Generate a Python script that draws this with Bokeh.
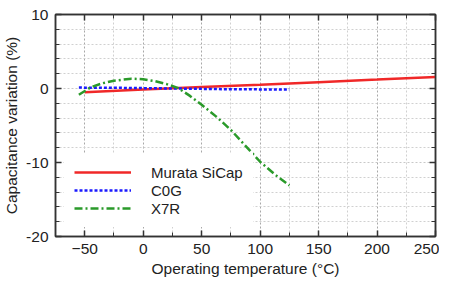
from bokeh.plotting import figure
from bokeh.models import (FixedTicker, LinearAxis, Range1d, Legend, LegendItem)
from bokeh.embed import file_html
from bokeh.resources import INLINE

# ---- data ----
sicap_t = [-50, 0, 50, 100, 150, 200, 250]
sicap_v = [-0.5, -0.15, 0.2, 0.5, 0.85, 1.2, 1.57]

c0g_t = [-55, -25, 0, 25, 50, 75, 100, 125]
c0g_v = [0.12, 0.1, 0.05, 0.0, -0.05, -0.1, -0.12, -0.15]

x7r_t = [-55, -45, -35, -25, -10, 0, 10, 20, 30, 40, 50, 62.5, 75, 87.5, 100, 112.5, 125]
x7r_v = [-0.85, 0.15, 0.7, 1.05, 1.33, 1.25, 1.0, 0.6, 0.05, -1.0, -2.2, -3.8, -5.6, -7.75, -9.9, -11.6, -13.1]

x_major = [-50, 0, 50, 100, 150, 200, 250]
x_minor = [-75, -25, 25, 75, 125, 175, 225]
y_major = [-20, -10, 0, 10]
y_minor = [-18, -16, -14, -12, -8, -6, -4, -2, 2, 4, 6, 8]
x_labels = {-50: "\u221250", 0: "0", 50: "50", 100: "100", 150: "150", 200: "200", 250: "250"}
y_labels = {-20: "-20", -10: "-10", 0: "0", 10: "10"}

FONT = "Liberation Sans"
AX = "#333333"
FS = "15.5px"

p = figure(frame_width=380, frame_height=222, output_backend="svg", toolbar_location=None,
           x_range=Range1d(-75, 250), y_range=Range1d(-20, 10),
           min_border_left=49, min_border_right=4, min_border_top=14, min_border_bottom=36)
p.background_fill_color = "white"
p.border_fill_color = "white"
p.outline_line_color = AX
p.outline_line_width = 1.5

xt = FixedTicker(ticks=x_major, minor_ticks=x_minor)
yt = FixedTicker(ticks=y_major, minor_ticks=y_minor)

def style_axis(ax, labels=True):
    ax.axis_line_color = AX
    ax.axis_line_width = 1.5
    ax.major_tick_line_color = AX
    ax.minor_tick_line_color = AX
    ax.major_tick_line_width = 1.5
    ax.minor_tick_line_width = 1
    ax.major_tick_in = 6
    ax.major_tick_out = 0
    ax.minor_tick_in = 4
    ax.minor_tick_out = 0
    ax.major_label_text_font = FONT
    ax.major_label_text_font_size = FS
    ax.major_label_text_color = "#222222"
    ax.axis_label_text_font = FONT
    ax.axis_label_text_font_size = FS
    ax.axis_label_text_font_style = "normal"
    ax.axis_label_text_color = "#222222"
    if not labels:
        ax.major_label_standoff = 0
        ax.major_label_text_font_size = "1px"
        ax.major_label_text_alpha = 0

p.xaxis.ticker = xt
p.yaxis.ticker = yt
p.xaxis.major_label_overrides = x_labels
p.yaxis.major_label_overrides = y_labels
p.xaxis.axis_label = "Operating temperature (\u00b0C)"
p.yaxis.axis_label = "Capacitance variation (%)"
style_axis(p.xaxis[0])
style_axis(p.yaxis[0])
p.xaxis.major_label_standoff = 7
p.xaxis.axis_label_standoff = 3
p.yaxis.major_label_standoff = 7
p.yaxis.axis_label_standoff = 3

top = LinearAxis(ticker=xt)
right = LinearAxis(ticker=yt)
style_axis(top, labels=False)
style_axis(right, labels=False)
p.add_layout(top, "above")
p.add_layout(right, "right")

p.xgrid.ticker = xt
p.ygrid.ticker = yt
p.xgrid.grid_line_color = "#a8a8a8"
p.xgrid.grid_line_dash = "2 2"
p.xgrid.minor_grid_line_color = "#d0d0d0"
p.xgrid.minor_grid_line_dash = "2 2"
p.ygrid.grid_line_color = "#c8c8c8"
p.ygrid.grid_line_dash = "2 2"
p.ygrid.minor_grid_line_color = "#d0d0d0"
p.ygrid.minor_grid_line_dash = "2 2"

r1 = p.line(sicap_t, sicap_v, line_color="#f02828", line_width=2.5)
r2 = p.line(c0g_t, c0g_v, line_color="#1a1aff", line_width=2.5, line_dash="3 2")
r3 = p.line(x7r_t, x7r_v, line_color="#2a9a2a", line_width=2.5, line_dash="8 3 2 3")

legend = Legend(items=[LegendItem(label="Murata SiCap", renderers=[r1]),
                       LegendItem(label="C0G", renderers=[r2]),
                       LegendItem(label="X7R", renderers=[r3])],
                location=(9, 9), padding=9, margin=0, spacing=0,
                glyph_width=57, glyph_height=18, label_height=18, label_standoff=20,
                label_text_font=FONT, label_text_font_size="15px", label_text_color="#222222",
                border_line_color="white", border_line_width=1,
                background_fill_color="white", background_fill_alpha=1.0)
p.add_layout(legend, "center")

open("out.html", "w").write(file_html(p, INLINE))
